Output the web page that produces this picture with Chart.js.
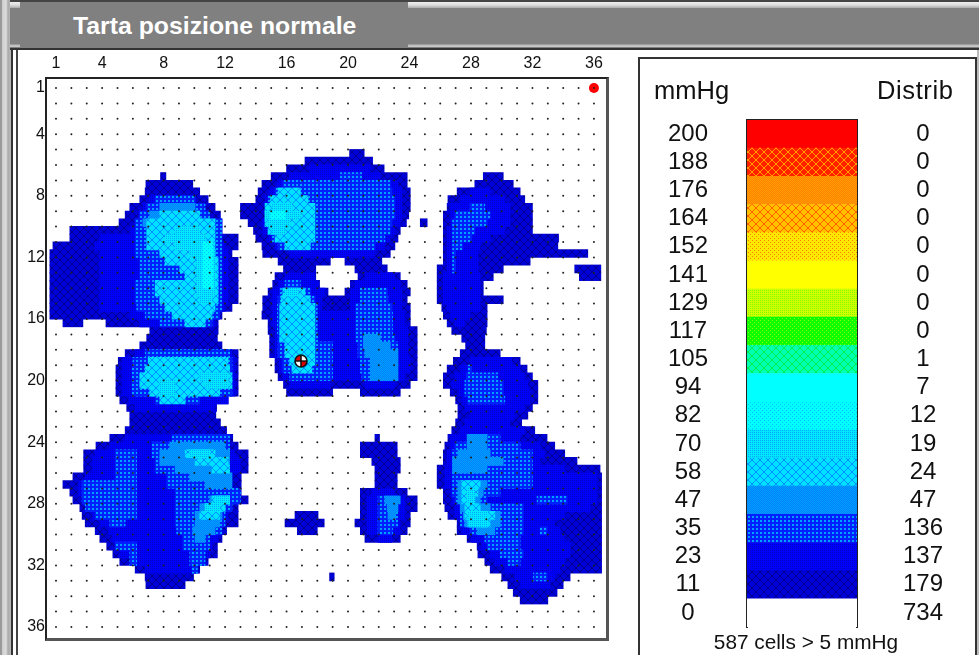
<!DOCTYPE html>
<html>
<head>
<meta charset="utf-8">
<title>Tarta posizione normale</title>
<script src="https://cdn.jsdelivr.net/npm/chart.js@4"></script>
<style>
  html, body { margin: 0; padding: 0; background: #fff; overflow: hidden; }
  #page { position: relative; width: 979px; height: 655px; overflow: hidden; font-family: "Liberation Sans", Arial, sans-serif; color: #111; }
  .abs { position: absolute; }
  #leftStrip { left: 0; top: 0; width: 19px; height: 655px;
    background: linear-gradient(to right, #999 0, #999 2px, #ccc 2px, #ddd 6px, #aaa 8px, #bbb 11px, #333 11px, #333 13px, #fff 13px, #fff 16px, #444 16px, #444 18px, #fff 18px); }
  #topBar { left: 10px; top: 0; width: 969px; height: 50px;
    background: linear-gradient(to bottom, #444 0, #444 2px, #eee 2px, #ddd 5px, #aaa 8px, #808080 8px, #808080 44px, #bbb 45px, #ccc 47px, #333 48px, #333 50px); }
  #titleTab { left: 20px; top: 2px; width: 388px; height: 46px; background: #808080; }
  #title { left: 73px; top: 11px; font-size: 24.8px; line-height: 30px; font-weight: bold; color: #fff; white-space: nowrap; }
  #plotBox { left: 45px; top: 77px; width: 559px; height: 559px; border-top: 2px solid #222; border-left: 2px solid #222; border-right: 3px solid #555; border-bottom: 3px solid #555; }
  #legendBox { left: 638px; top: 57px; width: 335px; height: 610px; border: 2px solid #333; }
  #rightStrip { left: 977px; top: 50px; width: 2px; height: 605px; background: #bbb; }
  .head { font-size: 25.5px; line-height: 30px; white-space: nowrap; filter: blur(0.4px); }
  #cellsNote { left: 706px; top: 630px; width: 200px; text-align: center; font-size: 20.8px; line-height: 24px; white-space: nowrap; filter: blur(0.4px); }
  canvas { position: absolute; filter: blur(0.5px); }
</style>
</head>
<body>
<div id="page">
  <div class="abs" id="leftStrip"></div>
  <div class="abs" id="topBar"></div>
  <div class="abs" id="titleTab"></div>
  <div class="abs" id="title">Tarta posizione normale</div>
  <div class="abs" id="plotBox"></div>
  <div class="abs" id="legendBox"></div>
  <div class="abs" id="rightStrip"></div>
  <div class="abs head" style="left:654px;top:75px">mmHg</div>
  <div class="abs head" style="left:877px;top:75px;letter-spacing:0.6px">Distrib</div>
  <div class="abs" id="cellsNote">587 cells &gt; 5 mmHg</div>
  <canvas id="mapChart" width="630" height="655" style="left:0;top:0;width:630px;height:655px"></canvas>
  <canvas id="scaleChart" width="335" height="590" style="left:640px;top:60px;width:335px;height:590px"></canvas>
</div>

<script>
// axis ticks and sensor grid
const tickLabels = [1, 4, 8, 12, 16, 20, 24, 28, 32, 36];
const sensorCells = [1, 2, 3, 4, 5, 6, 7, 8, 9, 10, 11, 12, 13, 14, 15, 16, 17, 18, 19, 20, 21, 22, 23, 24, 25, 26, 27, 28, 29, 30, 31, 32, 33, 34, 35, 36];

// scale column
const mmHg = ['200', '188', '176', '164', '152', '141', '129', '117', '105', '94', '82', '70', '58', '47', '35', '23', '11', '0'];
const distrib = ['0', '0', '0', '0', '0', '0', '0', '0', '1', '7', '12', '19', '24', '47', '136', '137', '179', '734'];
const scaleFill = [1, 1, 1, 1, 1, 1, 1, 1, 1, 1, 1, 1, 1, 1, 1, 1, 1, 1];

// reference markers: [col, row]
const peakPoint = [16.94, 18.73];
const cornerPoint = [36, 1];

// pressure bands: [row, fromCol, toCol]. Higher bands paint over lower ones.
const band11 = [
  // upper left
  [6.75,7.8,8.15],[7.25,6.85,9.9],[7.75,6.8,10.35],[8.25,6.45,10.9],[8.75,5.8,11.35],[9.25,5.5,11.7],[9.75,5.1,11.8],
  [10.25,1.9,11.8],[10.75,1.9,12.85],[11.25,0.8,12.85],[11.75,0.6,12.45],[12.25,0.6,12.85],[12.75,0.6,12.85],[13.25,0.6,12.85],
  [13.75,0.6,12.85],[14.25,0.6,12.85],[14.75,0.6,12.85],[15.25,0.6,12.45],[15.75,0.6,11.8],[16.25,1.45,2.75],[16.25,4.25,11.55],
  [16.75,7.1,11.55],[17.25,6.9,11.5],[17.75,6.45,11.8],[18.25,5.5,12.85],[18.75,5.05,12.85],[19.25,4.9,12.85],[19.75,4.9,12.85],
  [20.25,4.9,12.85],[20.75,4.9,12.85],[21.25,5.15,12.2],[21.75,5.6,11.45],[22.25,5.8,11.4],[22.75,5.8,11.7],[23.25,5.5,12.1],
  [23.75,4.5,12.5],[24.25,3.6,12.85],[24.75,2.8,13.5],[25.25,2.8,13.5],[25.75,2.8,13.5],[26.25,2.1,13.05],[26.75,1.45,13.05],
  [27.25,1.9,13.05],[27.75,2.1,13.5],[28.25,2.55,12.85],[28.75,2.7,12.85],[29.25,2.9,12.85],[29.75,3.55,12.1],[30.25,3.85,11.8],
  [30.75,4.3,11.5],[31.25,4.7,11.5],[31.75,5.15,10.9],[32.25,6.15,10.35],[32.75,6.8,9.95],[33.25,6.85,9.4],
  // upper centre
  [5.25,20.1,21.05],[5.75,17.2,21.6],[6.25,16,22.35],[6.75,15,23.85],[7.25,14.4,23.85],[7.75,14.15,24.05],[8.25,14,24.05],
  [8.75,13,24.05],[9.25,13,23.95],[9.75,13.5,23.8],[10.25,13.85,23.4],[10.75,14,23.25],[11.25,14.4,23.05],[11.75,14.45,22.75],
  [12.25,15.45,18.85],[12.25,19.8,22.2],[9.75,24.7,25.15],
  // lower centre
  [12.75,15.8,17.9],[12.75,20.45,22.55],[13.25,15.25,17.9],[13.25,20.65,23.4],[13.75,15.1,18.15],[13.75,20.15,23.85],
  [14.25,14.8,18.7],[14.25,19.8,24.05],[14.75,14.45,23.85],[15.25,14.45,24.05],[15.75,14.4,24.05],[16.25,14.8,24.05],
  [16.75,14.8,24.5],[17.25,14.9,24.5],[17.75,14.9,24.5],[18.25,14.9,24.5],[18.75,15.25,24.5],[19.25,15.25,24.5],[19.75,15.45,24.5],
  [20.25,15.8,24.05],[20.75,16,19],[20.75,20.8,23.4],
  // small blobs
  [28.75,16.55,18.05],[29.25,15.9,18.45],[29.75,16.7,18],[32.75,18.8,19.1],
  [23.75,21.75,22.05],[24.25,20.8,23.2],[24.75,20.8,23.2],[25.25,21.55,23.4],[25.75,21.75,23.4],[26.25,21.75,23.2],[26.75,21.75,23.2],
  [27.25,20.8,23.85],[27.75,20.8,24.5],[28.25,20.8,24.5],[28.75,20.8,24.05],[29.25,20.45,24.05],[29.75,20.8,23.85],[30.25,21.1,23.4],
  // right
  [6.75,28.8,30.1],[7.25,28.25,30.75],[7.75,27.1,31.2],[8.25,26.5,31.5],[8.75,26.45,32],[9.25,26.2,32],[9.75,26.2,32],[10.25,26.2,32],
  [10.75,26.2,33.7],[11.25,26.2,33.65],[11.75,26.2,35.6],[12.25,26.2,31.85],[12.75,25.8,30.1],[13.25,25.8,29.45],[13.75,25.8,28.8],
  [14.25,25.8,28.8],[14.75,25.8,30.1],[15.25,26.1,29.05],[15.75,26.2,29.05],[16.25,26.45,29.05],[16.75,26.75,29],[17.25,27.4,28.9],
  [17.75,27.65,28.9],[18.25,27.3,29.9],[18.75,26.85,31.2],[19.25,26.45,31.65],[19.75,26.2,32],[20.25,26.2,32.35],[20.75,26.65,32.35],
  [21.25,27,32.35],[21.75,27.15,32],[22.25,27.15,31.7],[22.75,27,31.3],[23.25,26.75,32.15],[23.75,26.5,32.95],[24.25,26.3,33.45],
  [24.75,26.2,34.1],[25.25,26.2,34.9],[25.75,25.8,36.4],[26.25,25.8,36.5],[26.75,25.8,36.5],[27.25,26.2,36.5],[27.75,26.2,36.5],
  [28.25,26.3,36.5],[28.75,26.5,36.5],[29.25,27.1,36.5],[29.75,27.1,36.5],[30.25,27.75,36.5],[30.75,28.4,36.5],[31.25,28.45,36.5],
  [31.75,28.9,36.5],[32.25,29.25,36.5],[32.75,30,34.45],[33.25,30.4,34],[33.75,30.75,33.6],[34.25,31.2,33],
  [12.75,34.75,36.45],[13.25,35.05,36.45]
];

const band23 = [
  [8.25,7.1,10.05],[8.75,6.65,10.7],[9.25,6.35,11],[9.75,6.15,11.35],[10.25,5.8,11.55],[10.75,3.85,11.65],[11.25,3.55,12],
  [11.75,3.85,12.2],[12.25,3.85,12.2],[12.75,3.85,12.2],[13.25,3.85,12.2],[13.75,3.85,12.2],[14.25,3.85,12.2],[14.75,3.85,12.2],
  [15.25,3.85,12],[15.75,5.8,11.65],[16.25,6.45,11.35],
  [18.25,6.15,12.45],[18.75,5.3,12.65],[19.25,5.3,12.65],[19.75,5.3,12.65],[20.25,5.3,12.65],[20.75,5.3,12.65],[21.25,5.7,12.2],[21.75,6.15,11.35],
  [23.75,5.5,12],[24.25,4.5,12],[24.75,3.55,12.65],[25.25,3.35,13],[25.75,3.35,13],[26.25,2.9,12.45],[26.75,2.45,12.45],[27.25,2.45,12.65],
  [27.75,2.7,12.65],[28.25,3.1,12.45],[28.75,3.35,12.2],[29.25,3.85,12],[29.75,4.4,11.8],[30.25,4.65,11.55],[30.75,4.85,11.15],
  [31.25,5.15,11],[31.75,5.8,10.7],[32.25,6.8,10.25],
  [6.25,17.5,21.45],[6.75,16.2,22.1],[7.25,15.4,23.25],[7.75,14.9,23.5],[8.25,14.6,23.5],[8.75,14.6,23.5],[9.25,14.6,23.5],[9.75,14.4,23.4],
  [10.25,14.45,23.05],[10.75,14.8,22.75],[11.25,15.25,22.4],[11.75,16.2,21.75],
  [13.25,15.9,17.85],[13.25,21.1,23.05],[13.75,15.45,18.05],[13.75,20.45,23.4],[14.25,15.1,18.5],[14.25,20.15,23.5],[14.75,15.05,18.3],[14.75,20.15,23.5],
  [15.25,15.05,18.3],[15.25,20.15,23.5],[15.75,15.05,23.7],[16.25,15.05,23.7],[16.75,15.25,23.9],[17.25,15.25,23.9],[17.75,15.25,23.9],[18.25,15.25,23.9],
  [18.75,15.55,24.05],[19.25,15.55,24.05],[19.75,15.75,23.7],[20.25,16.2,18.85],[20.25,21.1,23.05],
  [27.25,21.55,23.05],[27.75,21.25,23.7],[28.25,21.25,23.7],[28.75,21.25,23.7],[29.25,21.25,23.4],[29.75,21.25,23.4],[30.25,21.95,22.85],
  [7.75,27.95,29.25],[8.25,27.3,30.2],[8.75,26.65,30.55],[9.25,26.65,30.55],[9.75,26.65,30.55],[10.25,26.45,30.2],[10.75,26.45,29.25],[11.25,26.45,28.6],
  [11.75,26.45,28.45],[12.25,26.45,28.45],[12.75,26.45,28.45],[13.25,26.2,28.6],[13.75,26.2,28.6],[14.25,26.2,28.6],[14.75,26.2,28.6],[15.25,26.45,28.6],
  [15.75,26.65,27.95],[16.25,26.95,27.6],
  [18.75,27.95,30.65],[19.25,27.3,31.2],[19.75,26.95,31.5],[20.25,26.75,31.7],[20.75,27.15,31.85],[21.25,27.4,31.85],[21.75,27.6,31.5],[22.25,27.95,30.85],
  [22.75,27.6,30.55],[23.25,27.3,31.5],[23.75,26.65,31.2],[24.25,26.65,32.5],[24.75,26.45,32.8],[25.25,26.45,32.5],[25.75,26.3,34.1],[26.25,26.3,36.2],
  [26.75,26.3,36.2],[27.25,26.65,36.2],[27.75,26.75,36.2],[28.25,26.95,35.75],[28.75,26.95,34.1],[29.25,27.4,33.45],[29.75,27.4,33.8],[30.25,28.05,34.1],
  [30.75,28.7,34.45],[31.25,29.25,34.45],[31.75,29.55,34.1],[32.25,30.2,33.8],[32.75,30.85,33.45],[33.25,31.2,33.15]
];

const band35 = [
  [8.25,7.45,10.05],[8.75,6.9,10.7],[9.25,6.45,11],[9.75,6.15,11.8],[10.25,6.15,11.8],[10.75,6.15,11.8],[11.25,6.15,11.8],[11.75,6.15,11.8],
  [12.25,6.45,11.8],[12.75,6.45,11.8],[13.25,6.45,11.8],[13.75,6.15,11.8],[14.25,6.15,11.8],[14.75,6.15,11.8],[15.25,6.25,11.8],[15.75,6.8,11.65],[16.25,7.75,11.15],
  [18.25,6.8,12.3],[18.75,6,12.45],[19.25,5.95,12.45],[19.75,5.95,12.45],[20.25,5.95,12.45],[20.75,5.95,12.45],[21.25,7.45,10.35],
  [24.75,4.85,6.25],[25.25,4.85,6.25],[25.75,4.85,6.25],[26.25,4.85,6.25],[26.75,2.7,6.25],[27.25,2.7,6.25],[27.75,2.7,6.25],[28.25,2.9,6.25],[28.75,3.55,6.25],[29.25,4.5,5.5],
  [23.75,8.55,12.3],[24.25,7.25,12.3],[24.75,7.25,12.3],[25.25,7.45,12.3],[25.75,7.45,12.3],[26.25,8.2,12.3],[26.75,8.2,12.3],[27.25,8.75,13],[27.75,8.75,13],
  [28.25,8.75,12.45],[28.75,8.75,12],[29.25,8.75,12],[29.75,8.85,11.8],[30.25,9.25,11],[30.75,9.25,11],[31.25,9.7,10.7],[31.75,9.7,10.7],[32.25,9.85,10.2],
  [30.75,4.85,6.25],[31.25,5.8,6.25],[31.75,5.8,6.25],
  [6.75,19.5,20.9],[7.25,15.75,22.75],[7.75,15.25,22.85],[8.25,14.8,23.05],[8.75,14.8,23.05],[9.25,14.8,23.05],[9.75,14.6,22.85],[10.25,14.75,22.75],[10.75,15.05,22.4],[11.25,15.45,21.75],
  [13.75,15.9,16.9],[14.25,15.55,17.55],[14.75,15.45,17.85],[15.25,15.4,18],[15.75,15.4,18],[16.25,15.4,18],[16.75,15.4,18],[17.25,15.45,18.05],[17.75,15.45,19],[18.25,15.45,19],
  [18.75,15.75,19],[19.25,15.75,19],[19.75,16.2,19],
  [14.25,20.8,22.55],[14.75,20.8,22.6],[15.25,20.5,22.85],[15.75,20.5,22.9],[16.25,20.5,22.9],[16.75,20.5,22.9],[17.25,20.5,23.05],[17.75,20.65,23.25],[18.25,20.65,23.25],
  [18.75,20.8,23.25],[19.25,20.8,23.25],[19.75,20.9,23.25],
  [27.75,21.95,23.25],[28.25,21.95,23.25],[28.75,21.95,23.25],[29.25,21.95,23.25],[29.75,21.95,22.9],
  [8.75,27.95,28.9],[9.25,26.95,29.25],[9.75,26.8,29.05],[10.25,26.8,28.25],[10.75,26.8,28.05],[11.25,26.8,27.45],[11.75,26.8,27],[12.25,26.8,27],[12.75,26.8,27],
  [19.25,27.8,28.05],[19.75,27.7,29.75],[20.25,27.6,30.1],[20.75,27.6,30.1],[21.25,27.8,30.2],
  [23.75,27.75,29.9],[24.25,26.95,31.2],[24.75,26.8,32],[25.25,26.8,32],[25.75,26.8,32],[26.25,26.8,32],[26.75,26.8,32],[27.25,26.8,29.9],[27.75,26.95,29.05],[27.75,32.3,34.25],
  [28.25,27.3,31.4],[28.75,27.3,31.4],[29.25,27.3,31.4],[29.75,27.95,31.4],[29.75,32.5,32.95],[30.25,28.9,31.2],[30.75,29.05,31.2],[31.25,29.9,31.4],[31.75,30.4,31.2],[32.75,32.05,32.95]
];

const band47 = [
  [8.75,7.75,10.05],[9.25,7.1,10.35],[9.75,6.65,11],
  [17.25,21,22.1],[17.75,21,22.75],[18.25,21.1,23.25],[18.75,21.45,23.25],[19.25,21.45,23.25],[19.75,21.45,23.25],
  [24.25,8.4,12],[24.75,7.75,12.3],[25.25,7.75,12.3],[25.75,8.75,12.3],[26.25,9.7,12.45],[26.75,10.7,12.45],[27.75,11,12.3],[28.25,10.35,12],[28.75,10.05,11.8],
  [29.25,10.05,11.65],[29.75,9.9,11.35],[30.25,10.05,10.7],
  [23.75,27.75,29.05],[24.25,27.75,29.05],[24.75,27.15,29.25],[25.25,26.8,30.1],[25.75,26.8,29.05],[26.75,27.15,29.05],[27.25,27.15,28.8],[27.75,27.15,28.6],
  [28.25,27.3,29.25],[28.75,27.5,29.9],[29.25,27.6,29.9],[29.75,28.4,29.55],
  [27.75,22.4,23.4],[28.25,22.55,23.25],[28.75,22.6,23.1]
];

const band58 = [
  [9.25,7.75,10.35],[9.75,6.9,11.35],[10.25,6.9,11.35],[10.75,6.9,11.35],[11.25,6.9,11.35],[11.75,7.75,11.35],[12.25,8.1,11.55],[12.75,9.05,11.55],[13.25,9.4,11.55],
  [13.75,7.45,11.55],[14.25,7.45,11.55],[14.75,7.75,11.55],[15.25,8.1,11.35],[15.75,8.55,11.15],[16.25,9.4,10.7],
  [18.75,7,12.2],[19.25,6.8,12.3],[19.75,6.45,12.45],[20.25,6.45,12.45],[20.75,7.1,11.65],[21.25,7.75,9.4],
  [7.75,15.45,16.9],[8.25,14.95,17.4],[8.75,14.6,17.85],[9.25,14.6,17.85],[9.75,14.6,17.85],[10.25,14.8,17.85],[10.75,15.25,17.85],[11.25,15.9,17.55],
  [14.25,15.75,17.2],[14.75,15.65,17.55],[15.25,15.55,17.85],[15.75,15.55,17.85],[16.25,15.55,17.85],[16.75,15.55,17.85],[17.25,15.55,17.85],[17.75,15.9,17.85],
  [18.25,15.9,17.85],[18.75,16.2,17.85],[19.25,16.35,17.65],
  [24.75,9.4,11.35],[25.25,10.05,12.2],[25.75,11.15,12.3],[27.75,11.15,12.3],[28.25,10.7,12],[28.75,10.35,11.65],
  [26.75,27.4,28.6],[27.25,27.4,28.45],[27.75,27.4,28.25],[28.25,27.6,28.6],[28.75,27.6,29.55],[29.25,27.95,29.25]
];

const band70 = [
  [10.25,8.75,10.35],[10.75,8.1,10.7],[11.25,8.75,11.15],[11.75,9.7,11.35],[12.25,10.15,11.35],[12.75,10.15,11.35],[13.25,10.15,11.35],[13.75,10.15,11.35],[14.25,10.15,11.35],[14.75,10.35,11.15],
  [19.75,10.35,12.2],[20.25,7.75,8.75],[20.25,10.7,12.2],[20.75,7.75,8.75],
  [8.75,15.05,16.35],[9.25,14.6,16.9],[9.75,14.8,16.2],[10.25,15.05,15.9],[14.25,15.9,16.75],
  [24.75,9.7,11],[27.75,11.35,12.3],[28.25,10.7,11.65],
  [27.25,27.75,28.25],[27.75,27.75,28.25],[28.75,27.8,29.1],[29.25,27.8,29.1]
];

const band82 = [
  [11.25,10.55,11.2],[11.75,10.55,11.2],[12.25,10.55,11.2],[12.75,10.55,11.2],[13.25,10.55,11.2],[13.75,10.55,11.2],[9.25,14.95,15.9]
];

// dither tiles used by the old pressure software, kept soft like the scanned picture
const CROSS = ['x......x', '.x....x.', '..x..x..', '...xx...', '...xx...', '..x..x..', '.x....x.', 'x......x'];
const GRID = ['xx..', 'xx..', '....', '....'];
const FINEGRID = ['x.x.', '....', 'x.x.', '....'];
const SPARSE = ['x...', '....', '..x.', '....'];
const CHECK = ['x.', '.x'];
const SOLID = ['x'];

function makePattern(tile, base, ink) {
  const c = document.createElement('canvas');
  c.width = tile[0].length;
  c.height = tile.length;
  const g = c.getContext('2d');
  g.fillStyle = base;
  g.fillRect(0, 0, c.width, c.height);
  g.fillStyle = ink;
  tile.forEach((line, y) => {
    for (let x = 0; x < line.length; x++) {
      if (line[x] === 'x') g.fillRect(x, y, 1, 1);
    }
  });
  return g.createPattern(c, 'repeat');
}

const fill = {
  200: makePattern(SOLID, '#ff0000', '#ff0000'),
  188: makePattern(CROSS, '#ff2000', '#ffa000'),
  176: makePattern(CHECK, '#ff8000', '#ffa000'),
  164: makePattern(CROSS, '#ffc000', '#ff6000'),
  152: makePattern(SPARSE, '#ffe800', '#ff8000'),
  141: makePattern(SOLID, '#ffff00', '#ffff00'),
  129: makePattern(FINEGRID, '#d0ff00', '#80ff00'),
  117: makePattern(SPARSE, '#10ff00', '#80ff00'),
  105: makePattern(CROSS, '#00ffb0', '#00f050'),
  94: makePattern(SOLID, '#00ffff', '#00ffff'),
  82: makePattern(SPARSE, '#00ffff', '#00c0ff'),
  70: makePattern(FINEGRID, '#00e8ff', '#00a8ff'),
  58: makePattern(CROSS, '#00e0ff', '#0090ff'),
  47: makePattern(CHECK, '#0080ff', '#00a0ff'),
  35: makePattern(GRID, '#0020ff', '#00a0ff'),
  23: makePattern(FINEGRID, '#0000ff', '#0000c8'),
  11: makePattern(CROSS, '#0000d8', '#000090'),
  0: '#ffffff'
};

function bandSet(rows, key) {
  return {
    label: key + ' mmHg',
    data: rows.map(([row, from, to]) => ({ y: row, x: [from, to] })),
    backgroundColor: fill[key],
    borderWidth: 0,
    barThickness: 8,
    stack: 'map'
  };
}

function peakIcon() {
  const c = document.createElement('canvas');
  c.width = 14;
  c.height = 14;
  const g = c.getContext('2d');
  g.beginPath(); g.arc(7, 7, 6, 0, Math.PI * 2); g.fillStyle = '#fff'; g.fill();
  g.fillStyle = '#e00000';
  g.beginPath(); g.moveTo(7, 7); g.arc(7, 7, 6, Math.PI, Math.PI * 1.5); g.fill();
  g.beginPath(); g.moveTo(7, 7); g.arc(7, 7, 6, 0, Math.PI * 0.5); g.fill();
  g.strokeStyle = '#111';
  g.lineWidth = 1.6;
  g.beginPath(); g.arc(7, 7, 6, 0, Math.PI * 2); g.stroke();
  g.beginPath(); g.moveTo(1, 7); g.lineTo(13, 7); g.moveTo(7, 1); g.lineTo(7, 13); g.stroke();
  return c;
}

const sensorDots = [];
sensorCells.forEach(r => sensorCells.forEach(c => sensorDots.push({ x: c, y: r })));

const tickFont = { family: '"Liberation Sans", Arial, sans-serif', size: 16 };

new Chart(document.getElementById('mapChart'), {
  type: 'bar',
  data: {
    datasets: [
      { type: 'scatter', indexAxis: 'x', data: [{ x: peakPoint[0], y: peakPoint[1] }], pointStyle: peakIcon(), pointRadius: 7 },
      { type: 'scatter', indexAxis: 'x', data: sensorDots, pointRadius: 1, pointBackgroundColor: '#222', pointBorderWidth: 0 },
      { type: 'scatter', indexAxis: 'x', data: [{ x: cornerPoint[0], y: cornerPoint[1] }], pointRadius: 5, pointBackgroundColor: '#ff0000', pointBorderWidth: 0 },
      bandSet(band82, 82),
      bandSet(band70, 70),
      bandSet(band58, 58),
      bandSet(band47, 47),
      bandSet(band35, 35),
      bandSet(band23, 23),
      bandSet(band11, 11)
    ]
  },
  options: {
    indexAxis: 'y',
    responsive: false,
    animation: false,
    events: [],
    layout: { padding: { left: 0, right: 25, top: 0, bottom: 18 } },
    plugins: { legend: { display: false }, tooltip: { enabled: false } },
    scales: {
      x: {
        type: 'linear', position: 'top', stacked: false,
        min: 0.414, max: 36.72,
        grid: { display: false, drawTicks: false }, border: { display: false },
        afterBuildTicks: s => { s.ticks = tickLabels.map(v => ({ value: v })); },
        afterFit: s => { s.height = 79; },
        ticks: { font: tickFont, color: '#111', padding: 6, maxRotation: 0, autoSkip: false }
      },
      y: {
        type: 'linear', position: 'left', reverse: true, offset: false,
        min: 0.416, max: 36.65,
        grid: { display: false, drawTicks: false, offset: false }, border: { display: false },
        afterBuildTicks: s => { s.ticks = tickLabels.map(v => ({ value: v })); },
        afterFit: s => { s.width = 47; },
        ticks: { font: tickFont, color: '#111', padding: 2, autoSkip: false }
      }
    }
  }
});

const scaleFont = { family: '"Liberation Sans", Arial, sans-serif', size: 24 };

new Chart(document.getElementById('scaleChart'), {
  type: 'bar',
  data: {
    labels: mmHg,
    datasets: [{
      data: scaleFill,
      backgroundColor: mmHg.map(v => fill[v]),
      borderWidth: 0,
      barPercentage: 1,
      categoryPercentage: 1
    }]
  },
  options: {
    indexAxis: 'y',
    responsive: false,
    animation: false,
    events: [],
    layout: { padding: { left: 0, right: 0, top: 0, bottom: 23 } },
    plugins: { legend: { display: false }, tooltip: { enabled: false } },
    scales: {
      x: {
        position: 'top', min: 0, max: 1,
        grid: { display: false, drawTicks: false },
        border: { color: '#222', width: 2 },
        ticks: { display: false },
        afterFit: s => { s.height = 60; }
      },
      y: {
        type: 'category', position: 'left',
        grid: { display: false, drawTicks: false },
        border: { color: '#222', width: 2 },
        afterFit: s => { s.width = 107; s.paddingTop = 0; s.paddingBottom = 0; },
        ticks: { font: scaleFont, color: '#111', crossAlign: 'center', padding: 39, autoSkip: false }
      },
      yRight: {
        type: 'category', axis: 'y', position: 'right', offset: true,
        grid: { display: false, drawTicks: false },
        border: { color: '#222', width: 2 },
        afterFit: s => { s.width = 118; s.paddingTop = 0; s.paddingBottom = 0; },
        ticks: { font: scaleFont, color: '#111', crossAlign: 'center', padding: 46, autoSkip: false, callback: (v, i) => distrib[i] }
      }
    }
  }
});
</script>
</body>
</html>
